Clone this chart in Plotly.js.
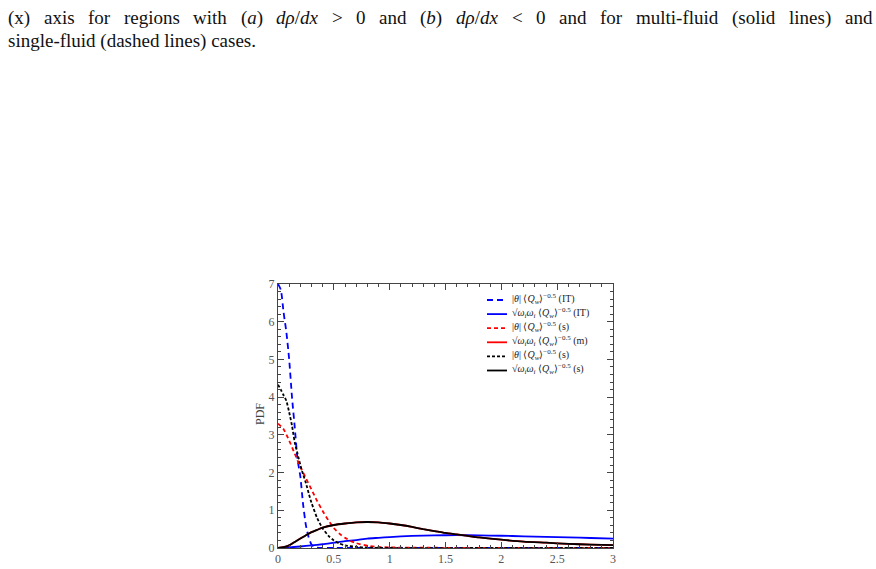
<!DOCTYPE html>
<html>
<head>
<meta charset="utf-8">
<script src="https://cdn.plot.ly/plotly-3.0.1.min.js"></script>
<style>
  body { margin: 0; background: #fff; }
  #chart { width: 876px; height: 569px; }
</style>
</head>
<body>
<div id="chart"></div>
<script>
// values
var xBlueDash = [0, 0.025, 0.05, 0.075, 0.1, 0.125, 0.15, 0.175, 0.2, 0.225, 0.25, 0.275, 0.3, 0.325, 0.35, 0.4, 0.5, 1, 2, 3]
var yBlueDash = [7.0, 6.85, 6.25, 5.72, 5.0, 4.01, 3.2, 2.35, 1.9, 1.15, 0.6, 0.28, 0.09, 0.03, 0.01, 0, 0, 0, 0, 0]

var xBlueSolid = [0, 0.1, 0.2, 0.3, 0.4, 0.5, 0.6, 0.7, 0.8, 0.9, 1.0, 1.2, 1.4, 1.6, 1.8, 2.0, 2.2, 2.4, 2.6, 2.8, 3.0]
var yBlueSolid = [0, 0.015, 0.04, 0.07, 0.1, 0.14, 0.18, 0.21, 0.25, 0.27, 0.29, 0.32, 0.335, 0.34, 0.335, 0.325, 0.31, 0.295, 0.28, 0.265, 0.25]

var xRedDash = [0, 0.05, 0.1, 0.15, 0.2, 0.25, 0.3, 0.35, 0.4, 0.45, 0.5, 0.55, 0.6, 0.65, 0.7, 0.8, 0.9, 1.0, 1.5, 2.0, 3.0]
var yRedDash = [3.3, 3.15, 2.85, 2.5, 2.15, 1.85, 1.55, 1.25, 0.98, 0.74, 0.53, 0.38, 0.27, 0.19, 0.13, 0.06, 0.03, 0.015, 0.005, 0, 0]

var xSolid = [0, 0.05, 0.1, 0.15, 0.2, 0.25, 0.3, 0.35, 0.4, 0.5, 0.6, 0.7, 0.8, 0.9, 1.0, 1.1, 1.2, 1.3, 1.4, 1.5, 1.6, 1.7, 1.8, 2.0, 2.2, 2.4, 2.6, 2.8, 3.0]
var yRedSolid = [0, 0.02, 0.07, 0.16, 0.25, 0.34, 0.42, 0.48, 0.54, 0.61, 0.65, 0.68, 0.69, 0.68, 0.65, 0.61, 0.56, 0.50, 0.45, 0.40, 0.36, 0.32, 0.28, 0.22, 0.17, 0.14, 0.11, 0.09, 0.075]
var yBlackSolid = [0, 0.02, 0.07, 0.16, 0.25, 0.34, 0.42, 0.48, 0.54, 0.61, 0.65, 0.68, 0.69, 0.68, 0.65, 0.61, 0.56, 0.50, 0.45, 0.40, 0.36, 0.32, 0.28, 0.22, 0.17, 0.14, 0.11, 0.09, 0.075]

var xBlackDash = [0, 0.025, 0.05, 0.075, 0.1, 0.125, 0.15, 0.175, 0.2, 0.225, 0.25, 0.275, 0.3, 0.35, 0.4, 0.45, 0.5, 0.55, 0.6, 0.7, 0.8, 1.0, 2.0, 3.0]
var yBlackDash = [4.33, 4.2, 4.05, 3.9, 3.6, 3.25, 2.8, 2.5, 2.2, 1.95, 1.72, 1.45, 1.2, 0.8, 0.52, 0.33, 0.2, 0.12, 0.07, 0.03, 0.01, 0, 0, 0]

var xTicks = [0, 0.5, 1, 1.5, 2, 2.5, 3]
var xTickText = ['0', '0.5', '1', '1.5', '2', '2.5', '3']
var yTicks = [0, 1, 2, 3, 4, 5, 6, 7]

var thetaName = '|<i>θ</i>| ⟨<i>Q<sub>w</sub></i>⟩<sup>−0.5</sup> '
var omegaName = '√<i>ω<sub>i</sub>ω<sub>i</sub></i> ⟨<i>Q<sub>w</sub></i>⟩<sup>−0.5</sup> '

// caption words, each a list of [text, italic] pieces
var captionLine1 = [
  [['(x)', 0]], [['axis', 0]], [['for', 0]], [['regions', 0]], [['with', 0]],
  [['(', 0], ['a', 1], [')', 0]],
  [['dρ', 1], ['/', 0], ['dx', 1]], [['>', 0]], [['0', 0]], [['and', 0]],
  [['(', 0], ['b', 1], [')', 0]],
  [['dρ', 1], ['/', 0], ['dx', 1]], [['<', 0]], [['0', 0]], [['and', 0]],
  [['for', 0]], [['multi-fluid', 0]], [['(solid', 0]], [['lines)', 0]], [['and', 0]]
]
var captionLine2 = 'single-fluid (dashed lines) cases.'

var serif = 'Liberation Serif, Times New Roman, serif'
var capSize = 19
var tickFont = { family: serif, size: 12, color: '#555' }

// plot box in pixels
var box = { l: 278, r: 613, t: 284, b: 548 }
function px(x) { return (x - box.l) / (box.r - box.l) }
function py(y) { return (box.b - y) / (box.b - box.t) }

function trace(x, y, colour, dash) {
  return {
    x: x,
    y: y,
    type: 'scatter',
    mode: 'lines',
    line: { color: colour, width: 1.8, dash: dash, shape: 'spline', smoothing: 0.6 },
    hoverinfo: 'skip',
    showlegend: false
  }
}

var series = [
  { x: xBlueDash, y: yBlueDash, name: thetaName + '(IT)', colour: '#0000ff', dash: '6px,4px' },
  { x: xBlueSolid, y: yBlueSolid, name: omegaName + '(IT)', colour: '#0000ff', dash: 'solid' },
  { x: xRedDash, y: yRedDash, name: thetaName + '(s)', colour: '#ff0000', dash: '4px,3px' },
  { x: xSolid, y: yRedSolid, name: omegaName + '(m)', colour: '#ff0000', dash: 'solid' },
  { x: xBlackDash, y: yBlackDash, name: thetaName + '(s)', colour: '#000000', dash: '3px,2px' },
  { x: xSolid, y: yBlackSolid, name: omegaName + '(s)', colour: '#000000', dash: 'solid' }
]

var data = series.map(function (s) { return trace(s.x, s.y, s.colour, s.dash) })

var annotations = []
var shapes = []

// legend, drawn by hand so the rows sit as close as in the figure
for (i = 0; i < series.length; i++) {
  var ly = py(300 + i * 14.1)
  shapes.push({
    type: 'line', xref: 'paper', yref: 'paper',
    x0: px(487), x1: px(507), y0: ly, y1: ly,
    line: { color: series[i].colour, width: 1.8, dash: series[i].dash }
  })
  annotations.push({
    text: series[i].name, x: px(510), y: ly + 0.004, xref: 'paper', yref: 'paper',
    xanchor: 'left', yanchor: 'middle', showarrow: false,
    font: { family: serif, size: 10, color: '#222' }
  })
}

// justified first caption line
var ctx = document.createElement('canvas').getContext('2d')
function pieceWidth(p) {
  ctx.font = (p[1] ? 'italic ' : '') + capSize + 'px "Liberation Serif"'
  return ctx.measureText(p[0]).width
}
function esc(s) { return s.replace(/</g, '&lt;').replace(/>/g, '&gt;') }

var widths = captionLine1.map(function (w) {
  return w.reduce(function (a, p) { return a + pieceWidth(p) }, 0)
})
var total = widths.reduce(function (a, b) { return a + b }, 0)
var gap = (864 - total) / (captionLine1.length - 1)
var cx = 6
for (i = 0; i < captionLine1.length; i++) {
  var html = captionLine1[i].map(function (p) {
    return p[1] ? '<i>' + esc(p[0]) + '</i>' : esc(p[0])
  }).join('')
  annotations.push({
    text: html, x: px(cx), y: py(18), xref: 'paper', yref: 'paper',
    xanchor: 'left', yanchor: 'middle', showarrow: false,
    font: { family: serif, size: capSize, color: '#111' }
  })
  cx += widths[i] + gap
}
annotations.push({
  text: captionLine2, x: px(6), y: py(41), xref: 'paper', yref: 'paper',
  xanchor: 'left', yanchor: 'middle', showarrow: false,
  font: { family: serif, size: capSize, color: '#111' }
})
annotations.push({
  text: 'PDF', textangle: -90, x: px(260), y: py(414), xref: 'paper', yref: 'paper',
  xanchor: 'center', yanchor: 'middle', showarrow: false,
  font: { family: serif, size: 12, color: '#444' }
})

var layout = {
  width: 876,
  height: 569,
  paper_bgcolor: '#fff',
  plot_bgcolor: '#fff',
  margin: { l: box.l, r: 876 - box.r, t: box.t, b: 569 - box.b, pad: 0 },
  showlegend: false,
  xaxis: {
    range: [0, 3],
    tickvals: xTicks,
    ticktext: xTickText,
    ticks: 'inside', ticklen: 6, tickcolor: '#444',
    minor: { dtick: 0.1, ticks: 'inside', ticklen: 3, tickcolor: '#444' },
    showline: true, linecolor: '#444', linewidth: 1, mirror: 'ticks',
    showgrid: false, zeroline: false,
    tickfont: tickFont,
    automargin: false
  },
  yaxis: {
    range: [0, 7],
    tickvals: yTicks,
    ticks: 'inside', ticklen: 6, tickcolor: '#444',
    minor: { dtick: 0.2, ticks: 'inside', ticklen: 3, tickcolor: '#444' },
    showline: true, linecolor: '#444', linewidth: 1, mirror: 'ticks',
    showgrid: false, zeroline: false,
    tickfont: tickFont,
    automargin: false
  },
  shapes: shapes,
  annotations: annotations
}

Plotly.newPlot('chart', data, layout, { displayModeBar: false, staticPlot: true })
</script>
</body>
</html>
